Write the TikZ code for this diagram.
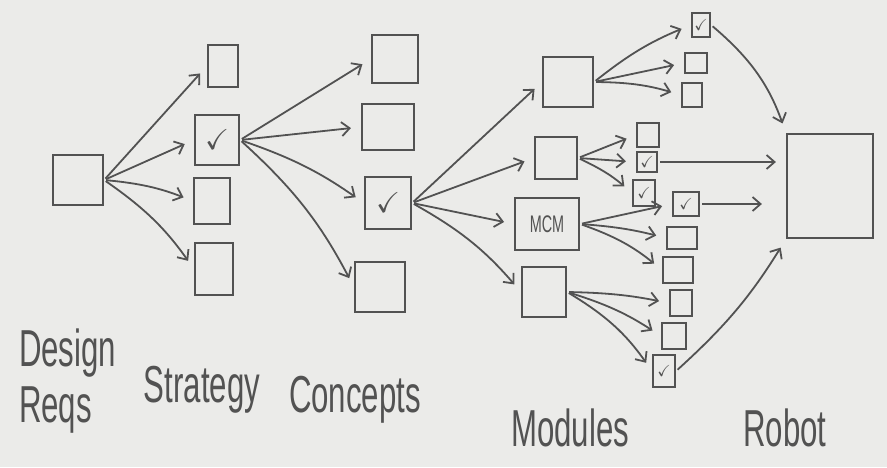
\documentclass[tikz,border=0pt]{standalone}
\usepackage{amssymb}
\usepackage{fontspec}
\newfontfamily\handfont{Liberation Sans}[FakeStretch=0.6]
\usepackage{tikz}
\usetikzlibrary{arrows.meta}
\definecolor{pencil}{RGB}{82,82,82}
\definecolor{paper}{RGB}{235,235,233}
\tikzset{>={Straight Barb[length=4pt,width=7pt]}}

\begin{document}
\begin{tikzpicture}[x=0.5pt, y=-0.5pt]
\tikzset{box/.style 2 args={draw=pencil, line width=1.1pt, inner sep=0pt, text=pencil, minimum width=#1, minimum height=#2}}
\tikzset{tick/.style={font=\Large}, smalltick/.style={font=\footnotesize}}
\tikzset{link/.style={->, draw=pencil, line width=0.9pt, shorten >=5pt, shorten <=1pt}}
\tikzset{label/.style={text=pencil, font=\handfont\fontsize{26}{28}\selectfont}}
    % paper
    \fill[paper] (0,0) rectangle (887,467);
    \useasboundingbox (0,0) rectangle (887,467);

    \node[box={25pt}{25pt}] (D) at (78,180) {};

    \node[box={15pt}{21pt}] (S1) at (223,66) {};
    \node[box={22pt}{25pt}, tick] (S2) at (217,140) {$\checkmark$};
    \node[box={18pt}{23pt}] (S3) at (212,201) {};
    \node[box={19pt}{26pt}] (S4) at (214,269) {};

    \node[box={23pt}{24pt}] (C1) at (395,59) {};
    \node[box={26pt}{23pt}] (C2) at (388,127) {};
    \node[box={23pt}{26pt}, tick] (C3) at (388,203) {$\checkmark$};
    \node[box={25pt}{25pt}] (C4) at (380,287) {};

    \node[box={25pt}{25pt}] (M1) at (568,82) {};
    \node[box={21pt}{21pt}] (M2) at (556,158) {};
    \node[box={32pt}{26pt}, font=\handfont\large] (M3) at (547,224) {MCM};
    \node[box={22pt}{25pt}] (M4) at (544,292) {};
% % % % % % % % % % % % % % % % % % %
    \node[box={9pt}{12pt}, smalltick] (T1) at (701,25) {$\checkmark$};
    \node[box={11pt}{10pt}] (T2) at (696,63) {};
    \node[box={10pt}{12pt}] (T3) at (692,95) {};

    \node[box={11pt}{12pt}] (P1) at (648,135) {};
    \node[box={10pt}{10pt}, smalltick] (P2) at (647,162) {$\checkmark$};
    \node[box={11pt}{13pt}, smalltick] (P3) at (644,193) {$\checkmark$};

    \node[box={13pt}{12pt}, smalltick] (L1) at (686,204) {$\checkmark$};
    \node[box={15pt}{11pt}] (L2) at (682,238) {};
    \node[box={15pt}{13pt}] (L3) at (678,270) {};
    \node[box={11pt}{13pt}] (L4) at (681,303) {};
    \node[box={12pt}{13pt}] (L5) at (674,336) {};
    \node[box={11pt}{16pt}, smalltick] (L6) at (664,371) {$\checkmark$};

    \node[box={43pt}{52pt}] (R) at (830,186) {};
% % % % % % % % % % % % % % % % % % %
    \draw[link] (D.east) -- (S1.west);
    \draw[link] (D.east) -- (S2.west);
    \draw[link] (D.east) to[bend left=8] (S3.west);
    \draw[link] (D.east) to[bend left=10] (S4.west);

    \draw[link] (S2.east) -- (C1.west);
    \draw[link] (S2.east) -- (C2.west);
    \draw[link] (S2.east) to[bend left=8] (C3.west);
    \draw[link] (S2.east) to[bend left=10] (C4.west);

    \draw[link] (C3.east) -- (M1.west);
    \draw[link] (C3.east) -- (M2.west);
    \draw[link] (C3.east) -- (M3.west);
    \draw[link] (C3.east) to[bend left=10] (M4.west);

    \draw[link] (M1.east) to[bend left=8] (T1.west);
    \draw[link] (M1.east) -- (T2.west);
    \draw[link] (M1.east) to[bend left=8] (T3.west);

    \draw[link] (M2.east) -- (P1.west);
    \draw[link] (M2.east) -- (P2.west);
    \draw[link] (M2.east) to[bend left=8] (P3.west);

    \draw[link] (M3.east) -- (L1.west);
    \draw[link] (M3.east) to[bend left=5] (L2.west);
    \draw[link] (M3.east) to[bend left=10] (L3.west);

    \draw[link] (M4.east) to[bend left=5] (L4.west);
    \draw[link] (M4.east) to[bend left=8] (L5.west);
    \draw[link] (M4.east) to[bend left=12] (L6.west);

    \draw[link] (T1.east) to[bend left=15] (R.north west);
    \draw[link] (P2.east) -- (P2.east -| R.west);
    \draw[link, shorten >=12pt] (L1.east) -- (L1.east -| R.west);
    \draw[link] (L6.east) to[bend right=8] (R.south west);
% % % % % % % % % % % % % % % % % % %
    \node[label, align=left, anchor=north west] (DR) at (12,322) {Design\\Reqs};
    \node[label] (LS) at (202,390) {Strategy};
    \node[label] (LC) at (355,400) {Concepts};
    \node[label] (LM) at (570,428) {Modules};
    \node[label] (LR) at (785,428) {Robot};
\end{tikzpicture}
\end{document}
